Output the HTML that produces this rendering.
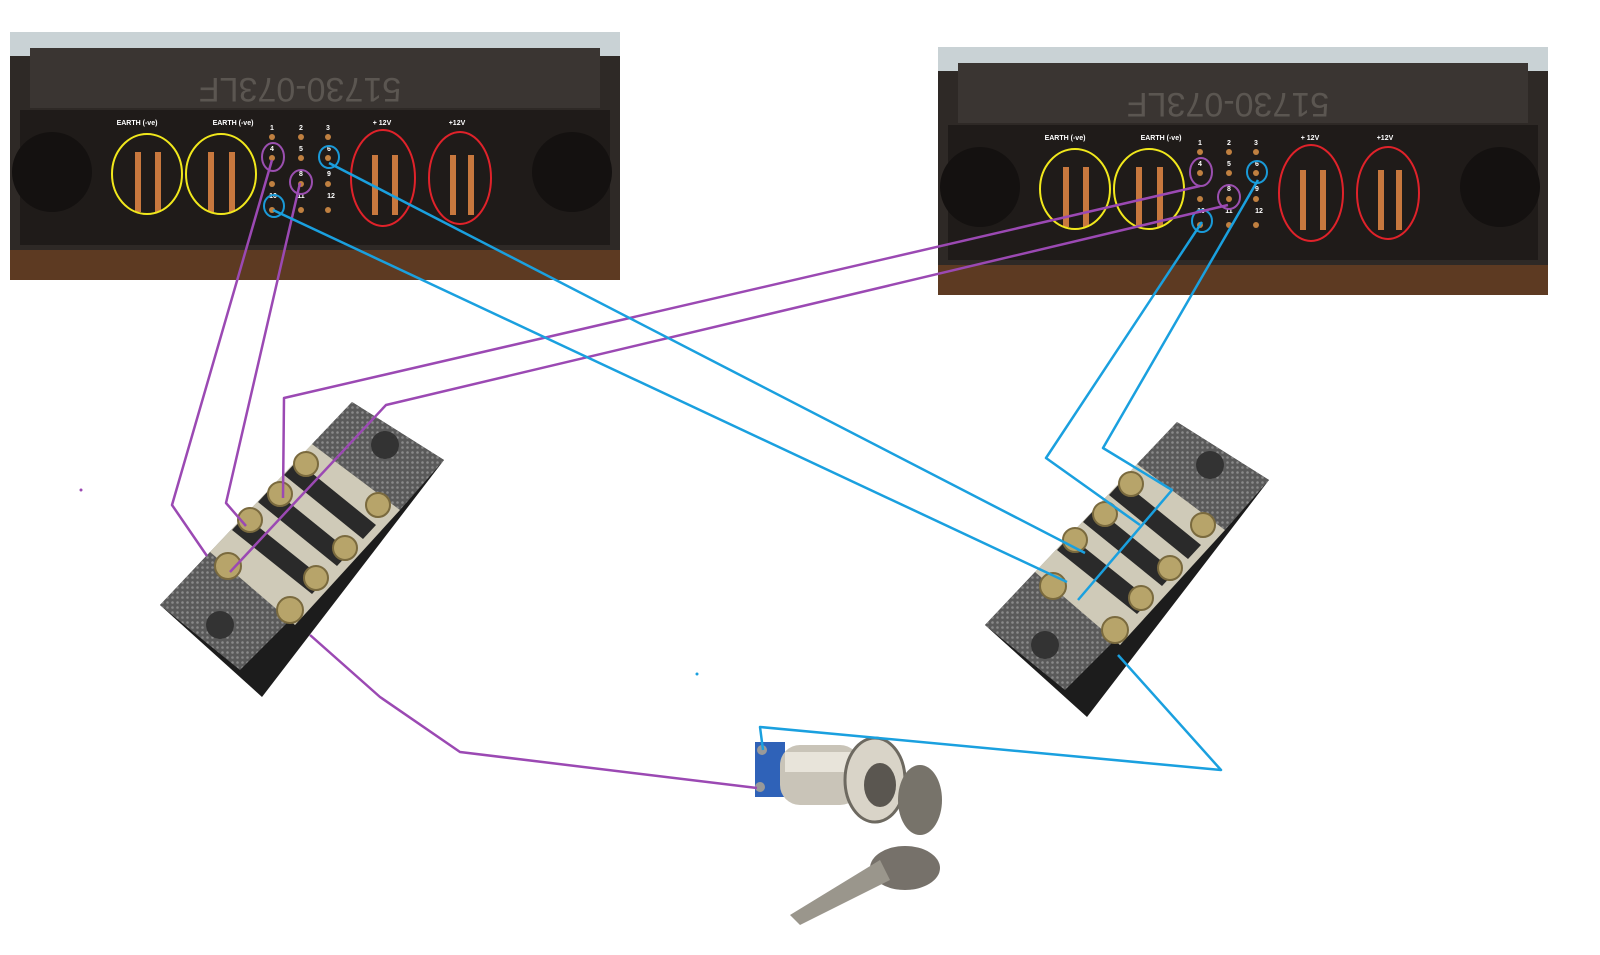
<!DOCTYPE html>
<html><head><meta charset="utf-8"><style>html,body{margin:0;padding:0;background:#fff}svg{display:block}</style></head>
<body>
<svg width="1600" height="955" viewBox="0 0 1600 955" xmlns="http://www.w3.org/2000/svg" font-family="Liberation Sans, sans-serif">
<defs>
<pattern id="dots" width="5" height="5" patternUnits="userSpaceOnUse"><rect width="5" height="5" fill="#5a5a5a"/><circle cx="2.5" cy="2.5" r="1.3" fill="#8a8a8a"/></pattern>
<g id="conn">
  <rect x="10" y="32" width="610" height="248" fill="#2e2926"/>
  <rect x="10" y="250" width="610" height="30" fill="#5d3a22"/>
  <rect x="10" y="32" width="610" height="24" fill="#c9d2d5"/>
  <rect x="30" y="48" width="570" height="60" fill="#3a3532"/>
  <text x="300" y="98" font-size="34" fill="#5b5651" text-anchor="middle" transform="rotate(180 300 88)">51730-073LF</text>
  <rect x="20" y="110" width="590" height="135" fill="#1f1b19"/>
  <ellipse cx="52" cy="172" rx="40" ry="40" fill="#141110"/>
  <ellipse cx="572" cy="172" rx="40" ry="40" fill="#141110"/>
  <g fill="#c8783e">
    <rect x="135" y="152" width="6" height="60"/><rect x="155" y="152" width="6" height="60"/>
    <rect x="208" y="152" width="6" height="60"/><rect x="229" y="152" width="6" height="60"/>
    <rect x="372" y="155" width="6" height="60"/><rect x="392" y="155" width="6" height="60"/>
    <rect x="450" y="155" width="6" height="60"/><rect x="468" y="155" width="6" height="60"/>
  </g>
  <g fill="#c08040">
    <circle cx="272" cy="137" r="3"/><circle cx="301" cy="137" r="3"/><circle cx="328" cy="137" r="3"/>
    <circle cx="272" cy="158" r="3"/><circle cx="301" cy="158" r="3"/><circle cx="328" cy="158" r="3"/>
    <circle cx="272" cy="184" r="3"/><circle cx="301" cy="184" r="3"/><circle cx="328" cy="184" r="3"/>
    <circle cx="272" cy="210" r="3"/><circle cx="301" cy="210" r="3"/><circle cx="328" cy="210" r="3"/>
  </g>
  <g fill="#fff" font-size="7" font-weight="bold" text-anchor="middle">
    <text x="137" y="125">EARTH (-ve)</text><text x="233" y="125">EARTH (-ve)</text>
    <text x="382" y="125">+ 12V</text><text x="457" y="125">+12V</text>
    <text x="272" y="130">1</text><text x="301" y="130">2</text><text x="328" y="130">3</text>
    <text x="272" y="151">4</text><text x="301" y="151">5</text><text x="329" y="151">6</text>
    <text x="301" y="176">8</text><text x="329" y="176">9</text>
    <text x="273" y="198">10</text><text x="301" y="198">11</text><text x="331" y="198">12</text>
  </g>
  <g fill="none" stroke-width="2">
    <ellipse cx="147" cy="174" rx="35" ry="40" stroke="#f1e81c"/>
    <ellipse cx="221" cy="174" rx="35" ry="40" stroke="#f1e81c"/>
    <ellipse cx="383" cy="178" rx="32" ry="48" stroke="#e0222a"/>
    <ellipse cx="460" cy="178" rx="31" ry="46" stroke="#e0222a"/>
    <ellipse cx="273" cy="157" rx="11" ry="14" stroke="#9b4fb0"/>
    <ellipse cx="301" cy="182" rx="11" ry="12" stroke="#9b4fb0"/>
    <ellipse cx="329" cy="157" rx="10" ry="11" stroke="#1a9ad8"/>
    <ellipse cx="274" cy="206" rx="10" ry="11" stroke="#1a9ad8"/>
  </g>
</g>
<g id="block">
  <polygon points="160,605 352,402 444,460 262,697" fill="#1c1c1c"/>
  <polygon points="160,605 210,552 290,620 240,670" fill="url(#dots)"/>
  <polygon points="312,444 352,402 444,460 400,510" fill="url(#dots)"/>
  <polygon points="210,552 312,444 400,510 295,625" fill="#cfcab8"/>
  <g fill="#2a2a2a">
    <polygon points="232,530 245,516 325,580 312,594"/>
    <polygon points="258,502 271,488 350,552 337,566"/>
    <polygon points="284,475 297,461 376,525 363,539"/>
  </g>
  <g fill="#b7a46a" stroke="#7a6a3e" stroke-width="2">
    <circle cx="228" cy="566" r="13"/><circle cx="250" cy="520" r="12"/><circle cx="280" cy="494" r="12"/><circle cx="306" cy="464" r="12"/>
    <circle cx="290" cy="610" r="13"/><circle cx="316" cy="578" r="12"/><circle cx="345" cy="548" r="12"/><circle cx="378" cy="505" r="12"/>
  </g>
  <circle cx="220" cy="625" r="14" fill="#333"/><circle cx="385" cy="445" r="14" fill="#333"/>
</g>
</defs>

<use href="#conn"/>
<use href="#conn" transform="translate(928,15)"/>
<use href="#block"/>
<use href="#block" transform="translate(825,20)"/>

<!-- key switch -->
<g>
  <rect x="755" y="742" width="30" height="55" fill="#2f62b8"/>
  <rect x="780" y="745" width="80" height="60" rx="20" fill="#c9c4b8"/>
  <rect x="785" y="752" width="70" height="20" fill="#e8e4da"/>
  <ellipse cx="875" cy="780" rx="30" ry="42" fill="#d9d4c8" stroke="#6d6960" stroke-width="3"/>
  <ellipse cx="880" cy="785" rx="16" ry="22" fill="#5a5650"/>
  <ellipse cx="920" cy="800" rx="22" ry="35" fill="#77736a"/>
  <ellipse cx="905" cy="868" rx="35" ry="22" fill="#76716a"/>
  <polygon points="790,915 880,860 890,880 800,925" fill="#9a968c"/>
  <circle cx="762" cy="750" r="5" fill="#999"/><circle cx="760" cy="787" r="5" fill="#999"/>
</g>

<g fill="none" stroke-width="2.5" stroke-linejoin="round">
  <g stroke="#9b49b3">
    <polyline points="272,160 172,505 207,556"/>
    <polyline points="300,183 226,503 246,526"/>
    <polyline points="1200,186 284,398 283,498"/>
    <polyline points="1228,205 386,405 230,572"/>
    <polyline points="310,635 380,697 460,752 757,788"/>
  </g>
  <g stroke="#1aa0df">
    <polyline points="329,163 1085,553"/>
    <polyline points="273,210 1067,582"/>
    <polyline points="1202,222 1046,458 1140,525"/>
    <polyline points="1258,180 1103,448 1172,490 1078,600"/>
    <polyline points="1118,655 1221,770 760,727 763,750"/>
  </g>
</g>
<circle cx="81" cy="490" r="1.5" fill="#9b49b3"/>
<circle cx="697" cy="674" r="1.5" fill="#1aa0df"/>
</svg>
</body></html>
